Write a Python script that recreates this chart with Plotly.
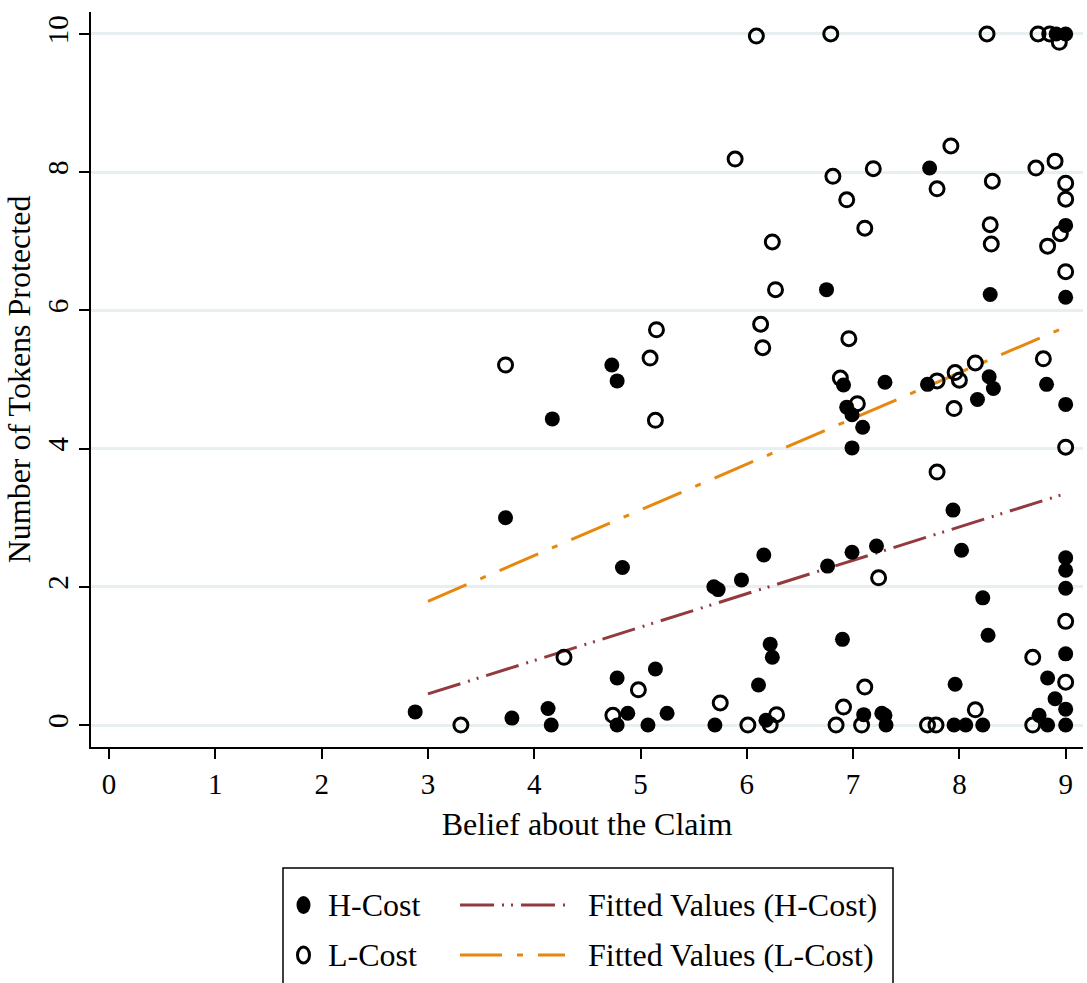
import plotly.graph_objects as go

# ---------------- data ----------------
h_belief = [2.88, 3.73, 3.79, 4.13, 4.16, 4.17, 4.73, 4.78, 4.83, 4.78, 4.78, 4.88, 5.07, 5.14, 5.25,
            5.70, 5.69, 5.73, 5.95, 6.11, 6.16, 6.22, 6.24, 6.18, 6.76, 6.75, 6.90, 6.91, 6.94, 6.99,
            6.99, 7.09, 6.99, 7.10, 7.22, 7.27, 7.30, 7.31, 7.30, 7.70, 7.72, 7.94, 7.96, 7.95, 8.02,
            8.06, 8.17, 8.22, 8.22, 8.27, 8.28, 8.32, 8.29, 8.75, 8.83, 8.83, 8.90, 8.82, 8.91, 9.00,
            9.00, 9.00, 9.00, 9.00, 9.00, 9.00, 9.00, 9.00, 9.00]
h_tokens = [0.19, 3.00, 0.10, 0.24, 0.00, 4.43, 5.21, 4.98, 2.28, 0.68, 0.00, 0.17, 0.00, 0.81, 0.17,
            0.00, 2.00, 1.96, 2.10, 0.58, 2.46, 1.17, 0.98, 0.07, 2.30, 6.30, 1.24, 4.92, 4.60, 4.49,
            4.01, 4.31, 2.50, 0.15, 2.59, 0.17, 0.14, 0.00, 4.96, 4.93, 8.06, 3.11, 0.59, 0.00, 2.53,
            0.00, 4.71, 1.84, 0.00, 1.30, 5.04, 4.87, 6.23, 0.14, 0.00, 0.68, 0.38, 4.93, 10.00, 10.00,
            7.23, 6.19, 4.64, 2.42, 2.24, 1.98, 1.03, 0.23, 0.00]

l_belief = [3.31, 3.73, 4.28, 4.74, 4.98, 5.09, 5.15, 5.14, 5.75, 5.89, 6.01, 6.09, 6.13, 6.15, 6.22,
            6.28, 6.24, 6.27, 6.79, 6.81, 6.84, 6.88, 6.91, 6.94, 6.96, 7.04, 7.08, 7.11, 7.11, 7.19,
            7.24, 7.70, 7.78, 7.79, 7.79, 7.79, 7.92, 7.95, 7.96, 8.00, 8.15, 8.15, 8.26, 8.29, 8.30,
            8.31, 8.69, 8.69, 8.72, 8.74, 8.79, 8.83, 8.85, 8.90, 8.94, 8.95, 9.00, 9.00, 9.00, 9.00,
            9.00, 9.00]
l_tokens = [0.00, 5.21, 0.98, 0.14, 0.51, 5.31, 5.72, 4.41, 0.32, 8.19, 0.00, 9.97, 5.80, 5.46, 0.00,
            0.15, 6.99, 6.30, 10.00, 7.94, 0.00, 5.02, 0.26, 7.60, 5.59, 4.65, 0.00, 0.55, 7.19, 8.05,
            2.13, 0.00, 0.00, 7.76, 3.66, 4.98, 8.38, 4.58, 5.10, 4.99, 5.24, 0.22, 10.00, 7.24, 6.96,
            7.87, 0.00, 0.98, 8.06, 10.00, 5.30, 6.93, 10.00, 8.16, 9.88, 7.11, 7.84, 7.61, 6.56, 4.02,
            1.50, 0.62]

fit_belief = [3, 9]
fit_h = [0.45, 3.35]
fit_l = [1.79, 5.76]

x_ticks = list(range(0, 10))
y_ticks = [0, 2, 4, 6, 8, 10]

series_names = ["H-Cost", "L-Cost", "Fitted Values (H-Cost)", "Fitted Values (L-Cost)"]

# ---------------- style ----------------
FONT = "Liberation Serif"
FS_TICK = 29
FS_TITLE = 32
FS_LEG = 32
MAROON = "#923a3e"
ORANGE = "#e8870e"
H_DASH = "34px,8px,2px,7px,2px,8px"
L_DASH = "42px,15px,6px,15px"

W, H = 1087, 983
ML, MR, MT, MB = 91, 4, 12, 236
PW, PH = W - ML - MR, H - MT - MB


def px(xp):
    return (xp - ML) / PW


def py(yp):
    return (H - MB - yp) / PH


fig = go.Figure()
fig.add_trace(go.Scatter(x=fit_belief, y=fit_h, mode="lines", name=series_names[2],
                         line=dict(color=MAROON, width=3, dash=H_DASH), showlegend=False))
fig.add_trace(go.Scatter(x=fit_belief, y=fit_l, mode="lines", name=series_names[3],
                         line=dict(color=ORANGE, width=3, dash=L_DASH), showlegend=False))
fig.add_trace(go.Scatter(x=h_belief, y=h_tokens, mode="markers", name=series_names[0],
                         marker=dict(symbol="circle", size=15, color="black", line=dict(width=0)),
                         showlegend=False))
fig.add_trace(go.Scatter(x=l_belief, y=l_tokens, mode="markers", name=series_names[1],
                         marker=dict(symbol="circle-open", size=14, color="black",
                                     line=dict(width=3, color="black")),
                         showlegend=False))

# ---------------- custom legend ----------------
shapes = [dict(type="rect", xref="paper", yref="paper", x0=px(283), x1=px(893), y0=py(995), y1=py(868),
               line=dict(color="black", width=1.5), fillcolor="white", layer="below")]
shapes.append(dict(type="circle", xref="paper", yref="paper", x0=px(296.5), x1=px(310.5), y0=py(914),
                   y1=py(896), fillcolor="black", line=dict(width=0)))
shapes.append(dict(type="circle", xref="paper", yref="paper", x0=px(297.5), x1=px(309.5), y0=py(963),
                   y1=py(947), fillcolor="white", line=dict(width=3, color="black")))
shapes.append(dict(type="line", xref="paper", yref="paper", x0=px(460), x1=px(565), y0=py(905), y1=py(905),
                   line=dict(color=MAROON, width=3, dash=H_DASH)))
shapes.append(dict(type="line", xref="paper", yref="paper", x0=px(460), x1=px(565), y0=py(955), y1=py(955),
                   line=dict(color=ORANGE, width=3, dash=L_DASH)))

annotations = []
for name, xx, yy in [(series_names[0], 326, 905), (series_names[1], 326, 955),
                     (series_names[2], 586, 905), (series_names[3], 586, 955)]:
    annotations.append(dict(text=name, xref="paper", yref="paper", x=px(xx), y=py(yy),
                            xanchor="left", yanchor="middle", showarrow=False,
                            font=dict(family=FONT, size=FS_LEG, color="black")))

fig.update_layout(
    width=W, height=H,
    margin=dict(l=ML, r=MR, t=MT, b=MB),
    paper_bgcolor="white", plot_bgcolor="white",
    font=dict(family=FONT, size=FS_TICK, color="black"),
    shapes=shapes, annotations=annotations,
    showlegend=False,
)
fig.update_xaxes(range=[-0.17, 9.163], tickvals=x_ticks, ticktext=[str(v) for v in x_ticks],
                 showgrid=False, zeroline=False, showline=True, linecolor="black", linewidth=1.5,
                 ticks="outside", ticklen=10, tickwidth=1.5, tickcolor="black",
                 tickfont=dict(family=FONT, size=FS_TICK),
                 title=dict(text="Belief about the Claim", font=dict(family=FONT, size=FS_TITLE), standoff=14))
fig.update_yaxes(range=[-0.318, 10.318], tickvals=y_ticks, ticktext=[str(v) for v in y_ticks],
                 showgrid=True, gridcolor="#e8eff0", gridwidth=3, zeroline=False,
                 showline=True, linecolor="black", linewidth=1.5,
                 ticks="outside", ticklen=10, tickwidth=1.5, tickcolor="black", tickangle=-90,
                 tickfont=dict(family=FONT, size=FS_TICK),
                 title=dict(text="Number of Tokens Protected", font=dict(family=FONT, size=FS_TITLE), standoff=1))

fig.write_html("out.html")
